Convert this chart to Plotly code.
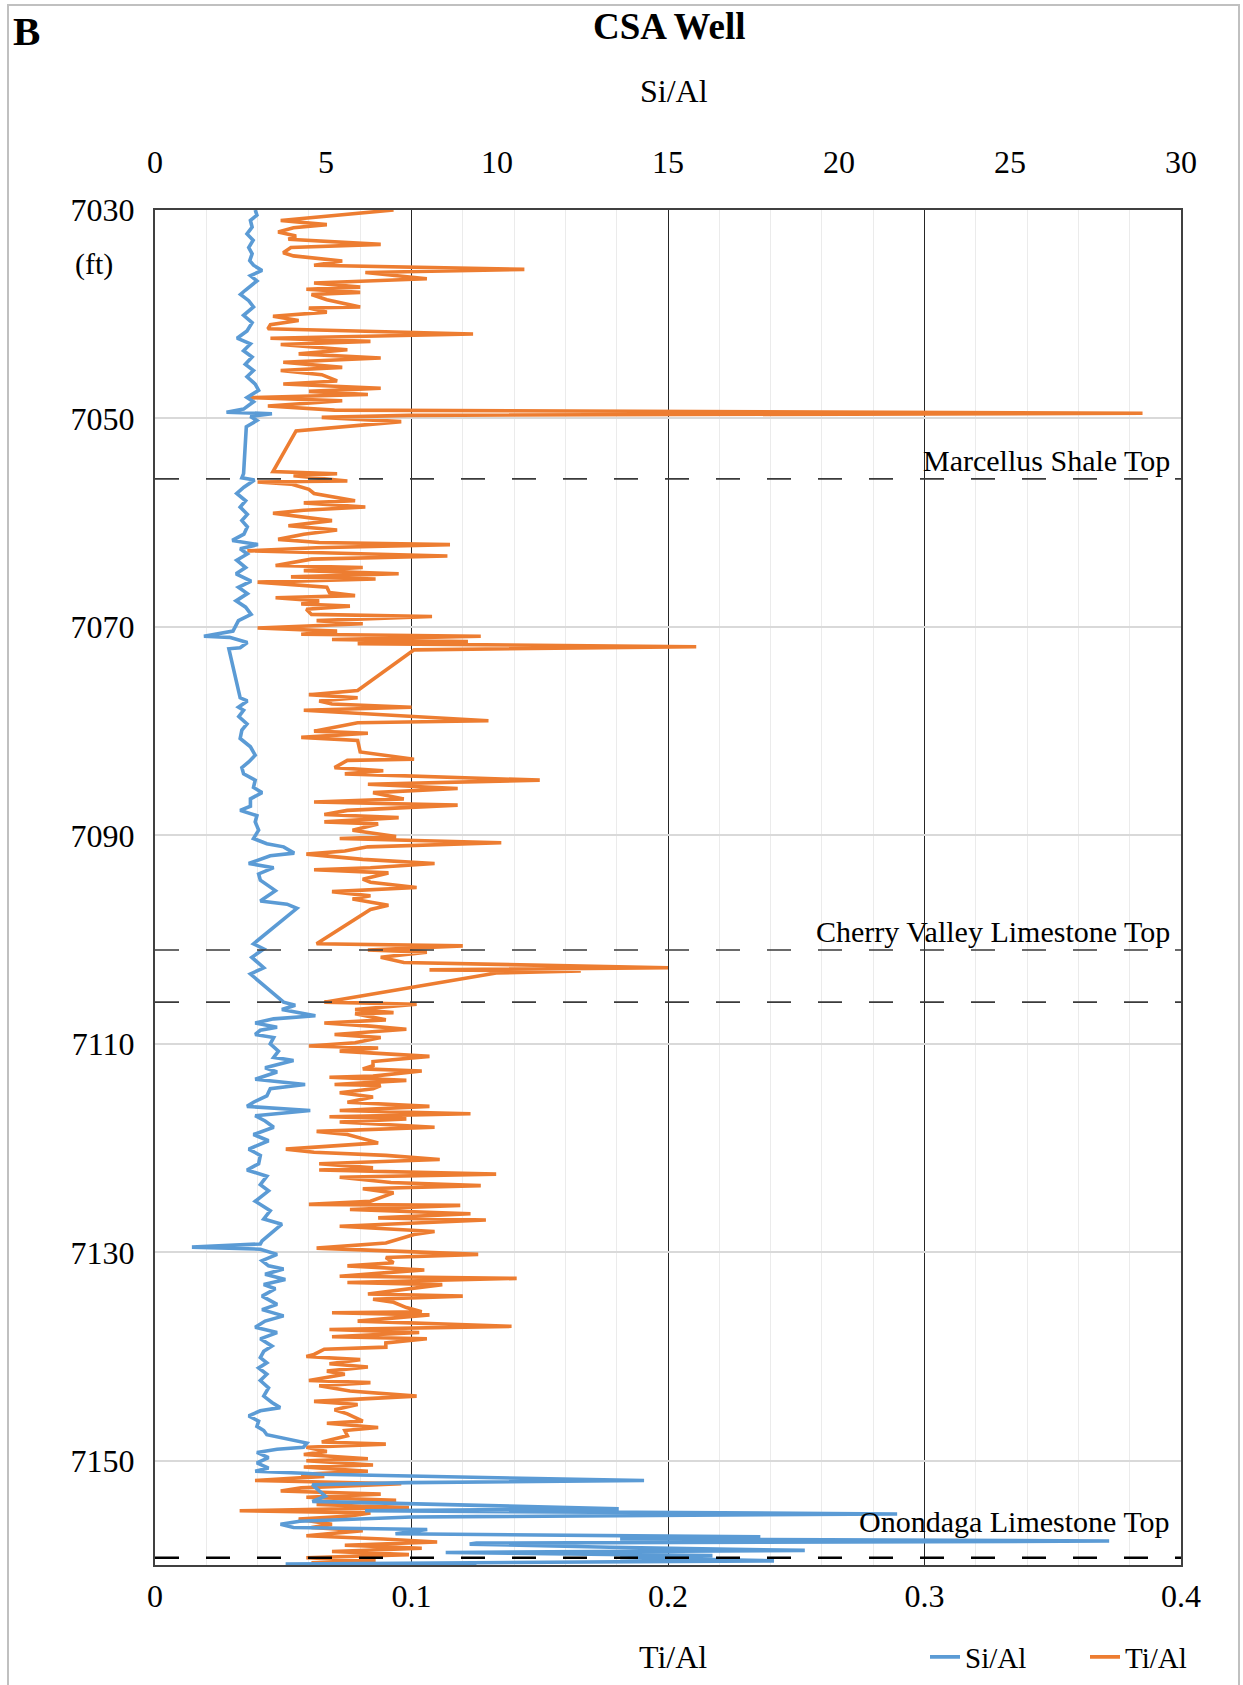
import plotly.graph_objects as go

# ---- Ti/Al log (bottom axis) ----
ti_depth = [
    7030.0, 7031.0, 7031.4, 7031.7, 7032.1, 7032.5, 7032.8, 7033.3, 7033.6, 7034.1,
    7034.4, 7034.9, 7035.3, 7035.7, 7036.0, 7036.6, 7037.0, 7037.4, 7037.6, 7037.9,
    7038.1, 7038.6, 7039.3, 7039.4, 7039.8, 7040.2, 7040.6, 7041.0, 7041.4, 7041.9,
    7042.3, 7042.6, 7042.9, 7043.4, 7043.8, 7044.2, 7044.6, 7045.1, 7045.4, 7045.8,
    7046.4, 7046.7, 7047.1, 7047.4, 7047.7, 7048.0, 7048.3, 7048.8, 7049.2, 7049.5,
    7049.7, 7049.9, 7050.3, 7051.1, 7051.2, 7055.1,
    7055.3, 7055.5, 7056.0, 7056.1, 7056.3, 7056.8, 7057.2, 7057.9, 7058.1, 7058.5,
    7058.8, 7059.1, 7059.8, 7060.3, 7060.7, 7061.1, 7061.6, 7061.9, 7062.1, 7062.4,
    7062.7, 7063.2, 7063.5, 7064.1, 7064.3, 7064.6, 7064.9, 7065.2, 7065.4, 7065.7,
    7066.2, 7066.7, 7067.0, 7067.2, 7067.5, 7067.8, 7068.0, 7068.3, 7068.8, 7069.0,
    7069.4, 7069.7, 7070.1, 7070.4, 7070.7, 7070.9, 7071.2, 7071.4, 7071.6, 7071.9,
    7072.2, 7076.1, 7076.5, 7076.8, 7077.1, 7077.4, 7077.7, 7078.0, 7078.4, 7079.0,
    7079.2, 7080.0, 7080.2, 7080.6, 7080.9, 7082.0, 7082.7, 7082.8, 7083.5, 7083.8,
    7084.1, 7084.4, 7084.7, 7085.1, 7085.5, 7085.9, 7086.5, 7086.8, 7087.1, 7087.6,
    7088.0, 7088.3, 7088.7, 7088.9, 7089.5, 7090.1, 7090.3, 7090.7, 7091.1, 7091.5,
    7091.8, 7092.3, 7092.7, 7093.1, 7093.3, 7093.6, 7094.2, 7094.5, 7095.0, 7095.4,
    7095.8, 7096.1, 7096.7, 7097.1, 7100.4, 7100.6, 7101.0, 7101.2, 7101.7, 7102.2,
    7102.5, 7102.7, 7102.9, 7103.0, 7103.2, 7106.0,
    7106.2, 7106.7, 7107.0, 7107.1, 7107.7, 7108.0, 7108.3, 7108.6, 7109.1, 7109.4,
    7109.9, 7110.2, 7110.4, 7110.7, 7111.2, 7111.7, 7112.1, 7112.4, 7112.6, 7113.1,
    7113.2, 7113.5, 7113.9, 7114.0, 7114.3, 7114.7, 7115.1, 7115.6, 7116.0, 7116.4,
    7116.7, 7117.0, 7117.2, 7117.5, 7118.0, 7118.4, 7118.7, 7119.5, 7120.1, 7120.4,
    7120.7, 7121.1, 7121.5, 7121.9, 7122.1, 7122.5, 7122.8, 7123.3, 7123.6, 7123.9,
    7124.3, 7125.1, 7125.4, 7125.5, 7125.9, 7126.3, 7126.7, 7126.9, 7127.5, 7128.0,
    7128.3, 7129.1, 7129.6, 7130.2, 7130.5, 7131.0, 7131.3, 7131.7, 7131.9, 7132.3,
    7132.5, 7132.9, 7133.1, 7133.5, 7134.0, 7134.2, 7134.5, 7134.8, 7135.3, 7135.7,
    7135.8, 7136.0, 7136.6, 7137.1, 7137.4, 7137.7, 7138.1, 7138.3, 7138.7, 7139.1,
    7139.3, 7139.8, 7140.0, 7140.3, 7140.7, 7141.0, 7141.4, 7141.7, 7142.3, 7142.5,
    7142.8, 7143.3, 7143.8, 7144.3, 7144.6, 7145.1, 7145.5, 7146.2, 7146.4, 7146.8,
    7147.1, 7147.6, 7148.2, 7148.4, 7148.7, 7149.1, 7149.4, 7149.8, 7150.0, 7150.4,
    7150.6, 7151.0, 7151.3, 7151.5, 7151.9, 7152.2, 7152.6, 7152.9, 7153.2, 7153.5,
    7153.8, 7154.2, 7154.5, 7154.8, 7155.0, 7155.3, 7155.6, 7156.1, 7156.4, 7156.7,
    7157.2, 7157.5, 7157.8, 7158.1, 7158.4, 7158.7, 7159.0, 7159.3, 7159.6, 7159.8,
    7160.0,
]
ti_al = [
    0.093, 0.049, 0.067, 0.054, 0.048, 0.055, 0.052, 0.088, 0.053, 0.050,
    0.054, 0.073, 0.062, 0.144, 0.082, 0.106, 0.062, 0.080, 0.059, 0.080,
    0.061, 0.067, 0.080, 0.060, 0.067, 0.046, 0.056, 0.045, 0.044, 0.124,
    0.045, 0.084, 0.049, 0.075, 0.056, 0.088, 0.050, 0.073, 0.049, 0.065,
    0.071, 0.050, 0.088, 0.060, 0.083, 0.037, 0.073, 0.044, 0.070, 0.385,
    0.099, 0.065, 0.096, 0.058, 0.055, 0.046,
    0.071, 0.054, 0.075, 0.040, 0.053, 0.060, 0.062, 0.078, 0.058, 0.082,
    0.058, 0.046, 0.069, 0.052, 0.071, 0.058, 0.048, 0.064, 0.115, 0.063,
    0.036, 0.114, 0.061, 0.047, 0.081, 0.058, 0.095, 0.053, 0.086, 0.040,
    0.067, 0.068, 0.078, 0.047, 0.064, 0.057, 0.076, 0.059, 0.061, 0.108,
    0.063, 0.081, 0.040, 0.071, 0.057, 0.127, 0.069, 0.122, 0.079, 0.211,
    0.101, 0.079, 0.060, 0.079, 0.064, 0.069, 0.100, 0.058, 0.085, 0.130,
    0.079, 0.062, 0.083, 0.057, 0.079, 0.080, 0.101, 0.075, 0.070, 0.089,
    0.074, 0.116, 0.150, 0.083, 0.118, 0.085, 0.097, 0.062, 0.118, 0.075,
    0.066, 0.095, 0.066, 0.087, 0.077, 0.094, 0.072, 0.135, 0.083, 0.074,
    0.059, 0.081, 0.109, 0.084, 0.062, 0.091, 0.081, 0.084, 0.102, 0.069,
    0.084, 0.077, 0.091, 0.084, 0.063, 0.120, 0.083, 0.106, 0.088, 0.097,
    0.166, 0.200, 0.107, 0.166, 0.133, 0.066,
    0.102, 0.078, 0.093, 0.078, 0.090, 0.066, 0.084, 0.098, 0.070, 0.088,
    0.078, 0.060, 0.087, 0.072, 0.107, 0.085, 0.085, 0.081, 0.104, 0.085,
    0.068, 0.098, 0.070, 0.088, 0.085, 0.072, 0.085, 0.075, 0.107, 0.072,
    0.123, 0.068, 0.098, 0.072, 0.109, 0.063, 0.075, 0.087, 0.051, 0.062,
    0.090, 0.111, 0.064, 0.085, 0.064, 0.133, 0.072, 0.092, 0.127, 0.081,
    0.093, 0.084, 0.060, 0.119, 0.076, 0.123, 0.087, 0.129, 0.072, 0.109,
    0.101, 0.090, 0.063, 0.126, 0.090, 0.093, 0.075, 0.105, 0.093, 0.072,
    0.141, 0.075, 0.112, 0.098, 0.083, 0.120, 0.085, 0.093, 0.098, 0.104,
    0.069, 0.107, 0.079, 0.139, 0.068, 0.103, 0.069, 0.106, 0.090, 0.090,
    0.066, 0.062, 0.059, 0.080, 0.068, 0.083, 0.067, 0.074, 0.060, 0.084,
    0.064, 0.076, 0.102, 0.062, 0.079, 0.070, 0.075, 0.081, 0.067, 0.087,
    0.074, 0.075, 0.065, 0.090, 0.059, 0.067, 0.058, 0.083, 0.059, 0.085,
    0.058, 0.083, 0.057, 0.066, 0.039, 0.096, 0.057, 0.049, 0.088, 0.059,
    0.094, 0.063, 0.099, 0.033, 0.084, 0.076, 0.056, 0.069, 0.061, 0.081,
    0.059, 0.089, 0.110, 0.074, 0.104, 0.069, 0.099, 0.059, 0.086, 0.061,
    0.086,
]

# ---- Si/Al log (top axis) ----
si_depth = [
    7030.0, 7030.5, 7031.0, 7031.65, 7032.3, 7032.9, 7033.6, 7034.2, 7034.85, 7035.3,
    7035.8, 7036.3, 7036.8, 7037.25, 7037.7, 7038.1, 7038.7, 7039.3, 7040.1, 7040.8,
    7041.6, 7042.3, 7042.85, 7043.5, 7044.1, 7044.8, 7045.4, 7046.0, 7046.7, 7047.3,
    7048.0, 7048.4, 7049.1, 7049.4, 7049.55, 7049.8, 7050.2, 7050.8, 7055.3, 7055.7,
    7055.9, 7056.6, 7057.2, 7057.9, 7058.5, 7059.2, 7059.8, 7060.4, 7061.1, 7061.7,
    7062.1, 7062.5, 7063.0, 7063.6, 7064.3, 7064.9, 7065.6, 7066.2, 7066.8, 7067.5,
    7068.1, 7068.8, 7069.4, 7070.4, 7070.9, 7071.0, 7071.5, 7072.0, 7072.1, 7076.8,
    7077.1, 7077.7, 7078.0, 7078.6, 7079.3, 7079.9, 7080.7, 7081.5, 7082.3, 7082.95,
    7083.5, 7084.1, 7084.7, 7085.4, 7085.9, 7086.5, 7087.2, 7087.6, 7088.1, 7088.7,
    7089.5, 7090.3, 7090.8, 7091.1, 7091.7, 7091.95, 7092.7, 7093.1, 7093.7, 7094.3,
    7095.3, 7096.3, 7096.6, 7097.0, 7100.4, 7100.9, 7101.7, 7102.7, 7103.3, 7106.0,
    7106.3, 7106.7, 7107.3, 7107.6, 7108.0, 7108.4, 7108.7, 7109.1, 7109.4, 7110.0,
    7110.7, 7111.3, 7111.6, 7112.3, 7112.7, 7113.4, 7113.9, 7114.3, 7115.0, 7115.6,
    7116.0, 7116.4, 7116.9, 7117.4, 7118.0, 7118.7, 7119.3, 7120.1, 7120.7, 7121.5,
    7122.1, 7122.7, 7123.5, 7124.1, 7125.1, 7126.0, 7126.8, 7127.3, 7128.3, 7128.9,
    7129.2, 7129.5, 7129.7, 7130.2, 7130.8, 7131.3, 7131.6, 7132.1, 7132.6, 7133.1,
    7133.5, 7134.2, 7135.0, 7135.5, 7136.1, 7136.6, 7137.2, 7137.7, 7138.3, 7139.0,
    7139.5, 7140.1, 7140.6, 7141.1, 7141.7, 7142.3, 7143.0, 7143.8, 7144.4, 7144.9,
    7145.2, 7145.7, 7146.2, 7146.7, 7147.1, 7147.5, 7148.3, 7148.7, 7148.9, 7149.2,
    7149.7, 7150.2, 7150.7, 7151.0, 7151.2, 7151.3, 7151.9, 7152.1, 7152.3, 7152.9,
    7153.4, 7153.9, 7154.6, 7154.8, 7155.1, 7155.4, 7155.8, 7156.1, 7156.4, 7156.6,
    7157.0, 7157.3, 7157.5, 7157.7, 7157.9, 7158.0, 7158.3, 7158.6, 7158.8, 7159.1,
    7159.3, 7159.6, 7159.9, 7160.0,
]
si_al = [
    2.93, 2.98, 2.79, 2.84, 2.69, 2.87, 2.74, 2.84, 2.77, 2.88,
    3.13, 2.79, 2.98, 2.79, 2.64, 2.50, 2.74, 2.88, 2.59, 2.84,
    2.69, 2.40, 2.79, 2.59, 2.84, 2.64, 2.88, 2.69, 2.93, 3.03,
    2.69, 2.88, 2.59, 2.09, 3.42, 2.79, 2.98, 2.67, 2.59, 2.54,
    2.91, 2.60, 2.39, 2.65, 2.49, 2.70, 2.54, 2.70, 2.60, 2.26,
    3.01, 2.49, 2.70, 2.39, 2.65, 2.37, 2.81, 2.44, 2.70, 2.37,
    2.65, 2.81, 2.44, 2.28, 1.43, 2.18, 2.70, 2.49, 2.16, 2.49,
    2.70, 2.44, 2.59, 2.45, 2.69, 2.54, 2.49, 2.79, 2.93, 2.74,
    2.54, 2.59, 2.93, 2.88, 3.13, 2.79, 2.79, 2.49, 2.98, 2.93,
    3.03, 2.88, 3.27, 3.76, 4.07, 3.37, 2.74, 3.47, 3.03, 3.08,
    3.52, 3.08, 3.86, 4.15, 2.88, 3.18, 2.83, 3.18, 2.79, 3.76,
    4.10, 3.71, 4.69, 3.47, 2.93, 3.57, 3.08, 2.93, 3.47, 3.37,
    3.61, 3.47, 4.05, 3.22, 3.57, 2.93, 4.39, 3.37, 3.27, 2.88,
    2.69, 4.54, 2.93, 3.22, 3.47, 2.88, 3.32, 2.74, 3.08, 3.03,
    2.69, 3.27, 3.08, 3.32, 2.93, 3.37, 3.18, 3.71, 3.37, 3.13,
    3.08, 1.08, 3.08, 3.57, 3.13, 3.32, 3.76, 3.22, 3.81, 3.18,
    3.52, 3.13, 3.57, 3.13, 3.76, 3.22, 2.93, 3.57, 3.08, 3.42,
    3.18, 3.08, 3.27, 3.03, 3.27, 3.08, 3.32, 3.18, 3.42, 3.66,
    3.08, 2.74, 3.03, 2.98, 3.18, 3.27, 4.44, 4.34, 3.57, 2.98,
    3.32, 2.98, 3.32, 2.93, 4.34, 4.88, 14.3, 7.40, 4.60, 4.79,
    4.98, 4.60, 13.56, 6.14, 21.7, 7.50, 4.23, 3.67, 4.05, 7.96,
    7.03, 17.7, 13.6, 27.9, 9.40, 9.20, 13.3, 19.0, 8.50, 16.3,
    13.6, 18.1, 3.82, 9.40,
]

# ---- axis ticks ----
depth_ticks = [7030, 7050, 7070, 7090, 7110, 7130, 7150]
ti_ticks = [0, 0.1, 0.2, 0.3, 0.4]
ti_tick_text = ["0", "0.1", "0.2", "0.3", "0.4"]
si_ticks = [0, 5, 10, 15, 20, 25, 30]

# ---- formation tops ----
top_names = ["Marcellus Shale Top", "Cherry Valley Limestone Top", "", "Onondaga Limestone Top"]
top_depths = [7055.8, 7101.0, 7106.0, 7159.3]

W, H = 1243, 1685
ML, MR, MT, MB = 155, 62, 210, 120
PW, PH = W - ML - MR, H - MT - MB
FONT = "Liberation Serif, Times New Roman, serif"
BLUE = "#5B9BD5"
ORANGE = "#ED7D31"


def px_x(x):
    return (x - ML) / PW


def px_y(y):
    return (H - MB - y) / PH


fig = go.Figure()
fig.add_trace(go.Scatter(
    x=ti_al, y=ti_depth, name="Ti/Al", mode="lines",
    line=dict(color=ORANGE, width=3.6), xaxis="x", yaxis="y",
))
fig.add_trace(go.Scatter(
    x=si_al, y=si_depth, name="Si/Al", mode="lines",
    line=dict(color=BLUE, width=3.6), xaxis="x2", yaxis="y",
))

axis_font = dict(family=FONT, size=32, color="#000000")

fig.update_layout(
    width=W, height=H,
    margin=dict(l=ML, r=MR, t=MT, b=MB, pad=0, autoexpand=False),
    paper_bgcolor="white", plot_bgcolor="white",
    font=dict(family=FONT, color="#000000"),
    xaxis=dict(
        range=[0, 0.4], tickvals=ti_ticks, ticktext=ti_tick_text,
        showgrid=True, gridcolor="#262626", gridwidth=1.4,
        minor=dict(dtick=0.02, tick0=0, showgrid=True, gridcolor="#ebebeb", gridwidth=1.4),
        zeroline=False, showline=True, linecolor="#404040", linewidth=2,
        ticks="", tickfont=axis_font, ticklabelstandoff=2,
    ),
    xaxis2=dict(
        range=[0, 30], tickvals=si_ticks, overlaying="x", side="top",
        showgrid=False, zeroline=False, showline=True, linecolor="#404040", linewidth=2,
        ticks="", tickfont=axis_font, ticklabelstandoff=22,
    ),
    yaxis=dict(
        range=[7160, 7030], tickvals=depth_ticks,
        showgrid=True, gridcolor="#d9d9d9", gridwidth=1.5,
        zeroline=False, showline=True, mirror=True, linecolor="#404040", linewidth=2,
        ticks="", tickfont=axis_font, ticklabelstandoff=12,
    ),
    legend=dict(
        orientation="h", x=px_x(925), xanchor="left", y=px_y(1657), yanchor="middle",
        font=dict(family=FONT, size=29), traceorder="reversed",
        entrywidth=115, entrywidthmode="pixels", bgcolor="rgba(0,0,0,0)",
    ),
    showlegend=True,
)

# formation-top marker lines and labels
for name, d in zip(top_names, top_depths):
    last = d == top_depths[-1]
    fig.add_shape(
        type="line", xref="paper", x0=0, x1=1, yref="y", y0=d, y1=d,
        line=dict(color="#000000" if last else "#3a3a3a", width=2.6 if last else 1.6,
                  dash="24px,27px"),
        layer="above",
    )
    if name:
        fig.add_annotation(
            text=name, xref="paper", x=px_x(1172), xanchor="right",
            yref="y", y=d, yanchor="bottom", yshift=18 if last else 0,
            showarrow=False, font=dict(family=FONT, size=30, color="#000000"),
        )

# titles and labels
fig.add_annotation(text="<b>B</b>", xref="paper", yref="paper", x=px_x(11), y=px_y(31),
                   xanchor="left", yanchor="middle", showarrow=False,
                   font=dict(family=FONT, size=41, color="#000000"))
fig.add_annotation(text="<b>CSA Well</b>", xref="paper", yref="paper", x=px_x(669), y=px_y(26),
                   xanchor="center", yanchor="middle", showarrow=False,
                   font=dict(family=FONT, size=37, color="#000000"))
fig.add_annotation(text="Si/Al", xref="paper", yref="paper", x=px_x(674), y=px_y(91),
                   xanchor="center", yanchor="middle", showarrow=False,
                   font=dict(family=FONT, size=32, color="#000000"))
fig.add_annotation(text="Ti/Al", xref="paper", yref="paper", x=px_x(673), y=px_y(1657),
                   xanchor="center", yanchor="middle", showarrow=False,
                   font=dict(family=FONT, size=32, color="#000000"))
fig.add_annotation(text="(ft)", xref="paper", yref="paper", x=px_x(94), y=px_y(264),
                   xanchor="center", yanchor="middle", showarrow=False,
                   font=dict(family=FONT, size=30, color="#000000"))

# outer frame
fig.add_shape(type="rect", xref="paper", yref="paper",
              x0=px_x(8), x1=px_x(1239), y0=px_y(1700), y1=px_y(5),
              line=dict(color="#c0c0c0", width=2), fillcolor="rgba(0,0,0,0)", layer="above")

fig.write_html("out.html")
